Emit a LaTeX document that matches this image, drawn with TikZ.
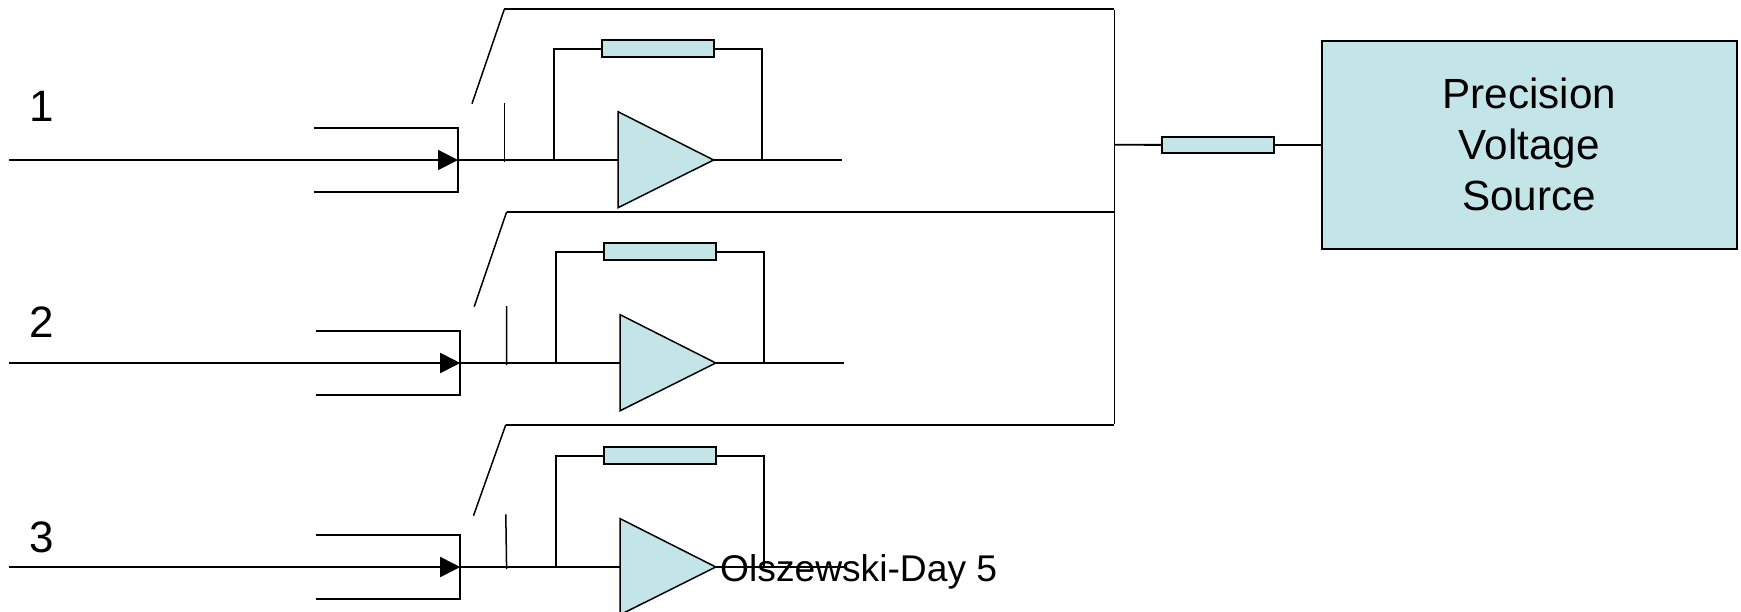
\documentclass[tikz,border=0pt]{standalone}
\usepackage{fontspec}
\setmainfont{Liberation Sans}
\usetikzlibrary{arrows.meta}
\definecolor{tealfill}{HTML}{C4E5E8}
\tikzset{
  x=1pt,y=-1pt,
  wire/.style={draw=black,line width=1.9pt,line cap=butt,line join=miter},
  thinwire/.style={draw=black,line width=1.5pt,line join=miter},
  resistor/.style={draw=black,fill=tealfill,line width=2pt,minimum width=112pt,minimum height=16.5pt,inner sep=0pt},
  amp/.style={draw=black,fill=tealfill,line width=1.5pt,line join=miter},
  feed/.style={-{Triangle[length=20pt,width=20pt]}},
  lab/.style={inner sep=0pt,anchor=base west,font=\fontsize{44}{50}\selectfont},
  foot/.style={inner sep=0pt,anchor=base west,font=\fontsize{37.2}{44}\selectfont},
  srcbox/.style={draw=black,fill=tealfill,line width=2.2pt,minimum width=415pt,minimum height=207.7pt,inner sep=0pt,align=center,font=\fontsize{42.2}{51}\selectfont},
}
% #1 name, #2 dx, #3 dy
\newcommand{\chan}[3]{%
  \coordinate (in#1) at (9,160+#3);
  \begin{scope}[shift={(#2,#3)}]
    \coordinate (tip#1) at (458,160);
    \coordinate (bt#1) at (313.5,127.7);
    \coordinate (bb#1) at (313.5,192);
    \coordinate (btr#1) at (458,127.7);
    \coordinate (bbr#1) at (458,192);
    \coordinate (stubb#1) at (504.4,162);
    \coordinate (fl#1) at (554,160);
    \coordinate (flt#1) at (554,48.7);
    \coordinate (fr#1) at (762,160);
    \coordinate (frt#1) at (762,48.7);
    \coordinate (ai#1) at (618,160);
    \coordinate (at#1) at (618,111.7);
    \coordinate (ab#1) at (618,207.7);
    \coordinate (ao#1) at (713.6,160);
    \coordinate (out#1) at (842,160);
    \node[resistor] (r#1) at (658,48.7) {};
  \end{scope}
  \draw[wire,feed] (in#1) -- (tip#1);
  \draw[wire] (tip#1) -- (ai#1);
  \draw[wire] (bt#1) -- (btr#1);
  \draw[wire] (bb#1) -- (bbr#1);
  \draw[thinwire] ([yshift=0.95pt]btr#1) -- ([yshift=-0.95pt]bbr#1);
  \draw[thinwire] (fl#1) -- ([yshift=0.95pt]flt#1);
  \draw[thinwire] (fr#1) -- ([yshift=0.95pt]frt#1);
  \draw[wire] (flt#1) -- (r#1.west);
  \draw[wire] (r#1.east) -- (frt#1);
  \draw[wire] (ao#1) -- (out#1);
  \draw[amp] (at#1) -- (ao#1) -- (ab#1) -- cycle;
}
\begin{document}
\begin{tikzpicture}
  \clip (0,0) rectangle (1741,611);
  \fill[white] (0,0) rectangle (1741,611);
  \chan{A}{0}{0}
  \chan{B}{2.2}{203}
  \chan{C}{2.2}{407}
  % bus and switch arms
  \coordinate (busA) at (1114.3,9);
  \coordinate (busB) at (1114.3,212);
  \coordinate (busC) at (1114.3,424.7);
  \coordinate (busM) at (1114.3,144.7);
  \coordinate (stA) at (504.4,9);
  \coordinate (stB) at (506.6,212);
  \coordinate (stC) at (505.8,424.7);
  \coordinate (sbA) at (472,103.7);
  \coordinate (sbB) at (474.2,306.7);
  \coordinate (sbC) at (473.5,515.7);
  \coordinate (stubA) at (504.4,103);
  \coordinate (stubB) at (506.6,306);
  \coordinate (stubC) at (505.8,514.3);
  \draw[thinwire] (sbA) -- (stA);
  \draw[thinwire] (sbB) -- (stB);
  \draw[thinwire] (sbC) -- (stC);
  \draw[wire] (stA) -- (busA);
  \draw[wire] (stB) -- (busB);
  \draw[wire] (stC) -- (busC);
  \draw[thinwire] ([yshift=-0.95pt]busA) -- ([yshift=0.95pt]busC);
  \draw[thinwire] (stubA) -- (stubbA);
  \draw[thinwire] (stubB) -- (stubbB);
  \draw[thinwire] (stubC) -- (stubbC);
  % source
  \node[srcbox] (src) at (1529.2,144.85) {Precision\\Voltage\\Source};
  \node[resistor] (rbus) at (1217.8,144.85) {};
  \draw[wire] (busM) -- (rbus.west);
  \draw[wire] (rbus.east) -- (src.west);
  % labels
  \node[lab] (n1) at (29.5,121.7) {1};
  \node[lab] (n2) at (29.5,337) {2};
  \node[lab] (n3) at (29.5,552.5) {3};
  \node[foot] (day) at (720,581.7) {Olszewski-Day 5};
\end{tikzpicture}
\end{document}
